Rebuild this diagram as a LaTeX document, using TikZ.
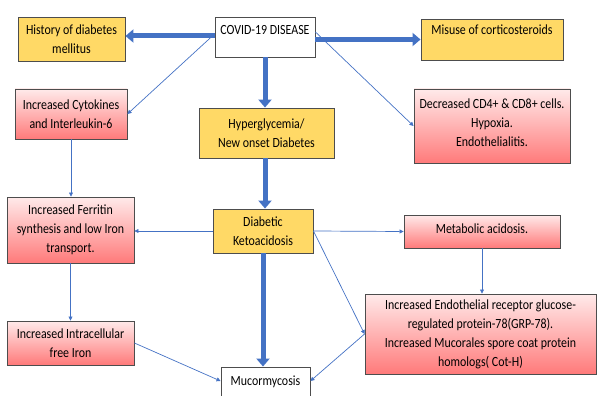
\documentclass[tikz,border=0pt]{standalone}
\usepackage{fontspec}
\setmainfont{Carlito}[FakeStretch=0.85]
\usetikzlibrary{arrows.meta}
\definecolor{yfill}{RGB}{255,217,102}
\definecolor{bline}{RGB}{77,77,77}
\definecolor{arr}{RGB}{68,114,196}
\definecolor{rtop}{RGB}{255,234,234}
\definecolor{rbot}{RGB}{255,122,122}
\begin{document}
\begin{tikzpicture}[x=1pt,y=-1pt,
  box/.style={draw=bline,line width=0.9pt,inner sep=0pt,align=center,
    font=\fontsize{14}{19}\selectfont},
  ybox/.style={box,fill=yfill},
  wbox/.style={box,fill=white},
  rbox/.style={box,top color=rtop,bottom color=rbot},
  thick arrow/.style={draw=arr,line width=5pt,-{Triangle[length=8pt,width=13pt]}},
  thin arrow/.style={draw=arr,line width=0.7pt,-{Triangle[length=4pt,width=4pt]}}
]
\useasboundingbox (0,0) rectangle (598,396);

\node[ybox,minimum width=107pt,minimum height=44pt] (hist) at (71.5,39) {History of diabetes\\mellitus};
\node[wbox,minimum width=100pt,minimum height=40pt] (covid) at (265,37) {COVID-19 DISEASE\\[-4pt]\mbox{}};
\node[ybox,minimum width=142pt,minimum height=41pt] (misuse) at (492,39.5) {Misuse of corticosteroids\\\mbox{}};
\node[rbox,minimum width=112pt,minimum height=50pt] (cyto) at (71,114) {Increased Cytokines\\and Interleukin-6};
\node[ybox,minimum width=135pt,minimum height=50pt] (hyper) at (266.5,133) {Hyperglycemia/\\New onset Diabetes};
\node[rbox,minimum width=156pt,minimum height=74pt] (cd4) at (492,126) {Decreased CD4+ \& CD8+ cells.\\Hypoxia.\\Endothelialitis.\\[-12pt]\mbox{}};
\node[rbox,minimum width=127pt,minimum height=66pt] (fer) at (70.5,230) {Increased Ferritin\\synthesis and low Iron\\transport.};
\node[ybox,minimum width=100pt,minimum height=44pt] (dka) at (263,231) {Diabetic\\Ketoacidosis};
\node[rbox,minimum width=156pt,minimum height=33pt] (meta) at (482,231.5) {Metabolic acidosis.\\[-14pt]\mbox{}};
\node[rbox,minimum width=231pt,minimum height=80pt] (endo) at (480.5,334) {Increased Endothelial receptor glucose-\\regulated protein-78(GRP-78).\\Increased Mucorales spore coat protein\\homologs( Cot-H)};
\node[rbox,minimum width=127pt,minimum height=44pt] (intra) at (70.5,343) {Increased Intracellular\\free Iron};
\node[wbox,minimum width=89pt,minimum height=30pt] (mucor) at (265.5,382) {Mucormycosis};

% thick arrows
\draw[thick arrow] ([yshift=1pt]covid.west) -- ([yshift=1pt]covid.west -| hist.east);
\draw[thick arrow] (misuse.west -| covid.east) -- (misuse.west);
\draw[thick arrow] (covid.south) -- (covid.south |- hyper.north);
\draw[thick arrow] (hyper.south -| covid.south) -- (covid.south |- dka.north);
\draw[thick arrow] (dka.south) -- (dka.south |- mucor.north);

% thin arrows
\draw[thin arrow] ([yshift=3pt]covid.west) -- (cyto.east);
\draw[thin arrow] ([yshift=5pt]covid.east) -- (cd4.west);
\draw[thin arrow] (cyto.south) -- (cyto.south |- fer.north);
\draw[thin arrow] (dka.west) -- (dka.west -| fer.east);
\draw[thin arrow] (dka.east) -- (meta.west);
\draw[thin arrow] (dka.east) -- (endo.west);
\draw[thin arrow] (meta.south) -- (meta.south |- endo.north);
\draw[thin arrow] (fer.south) -- (intra.north);
\draw[thin arrow] (intra.east) -- ([yshift=1pt]mucor.west);
\draw[thin arrow] (endo.west) -- ([yshift=1pt]mucor.east);
\end{tikzpicture}
\end{document}
